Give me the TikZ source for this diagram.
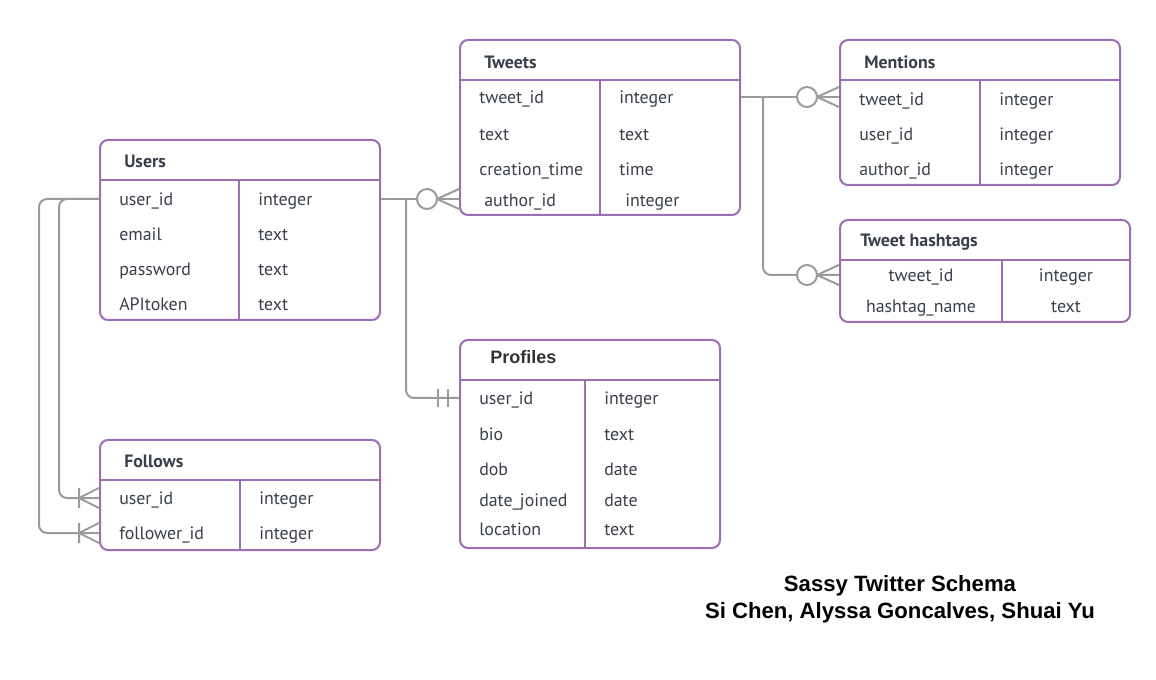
\documentclass[tikz,border=0pt]{standalone}
\usepackage{fontspec}
\setmainfont{PT Sans}
\newfontfamily\arialfont{Liberation Sans}
\usepackage{xcolor}
\usepackage{tikz}
\usetikzlibrary{calc,fit}
\definecolor{tabpurple}{RGB}{155,110,180}
\definecolor{relgray}{RGB}{155,155,155}
\definecolor{fieldtext}{RGB}{58,64,74}

\begin{document}
\begin{tikzpicture}
                            [x=0.75pt,y=-0.75pt,
                            table/.style = {draw=tabpurple, line width=1.5pt,
                                        rounded corners=6pt, inner sep=0pt},
                            tabline/.style = {draw=tabpurple, line width=1.5pt},
                            field/.style = {anchor=west, inner sep=0pt, text=fieldtext,
                                        font=\fontsize{13.4}{16}\selectfont,
                                        text height=12pt, text depth=2pt},
                            head/.style = {field, font=\fontsize{13.4}{16}\selectfont\bfseries},
                            rel/.style = {draw=relgray, line width=1.5pt}]
                            \useasboundingbox (0,0) rectangle (1156,680);
                            % Tabla Users
                            \node[table, fit={(100,140) (380,320)}] (users) {};
                            \draw[tabline] (100,180) -- (380,180) (239,180) -- (239,320);
                            \node[head] (usersh) at (124,161) {Users};
                            \node[field] (u1) at (119,199) {user\_id};
                            \node[field] (u1t) at (258,199) {integer};
                            \node[field] (u2) at (119,234) {email};
                            \node[field] (u2t) at (258,234) {text};
                            \node[field] (u3) at (119,269) {password};
                            \node[field] (u3t) at (258,269) {text};
                            \node[field] (u4) at (119,304) {APItoken};
                            \node[field] (u4t) at (258,304) {text};
                            % Tabla Tweets
                            \node[table, fit={(460,40) (740,215)}] (tweets) {};
                            \draw[tabline] (460,80) -- (740,80) (600,80) -- (600,215);
                            \node[head] (tweetsh) at (484,62) {Tweets};
                            \node[field] (t1) at (479,97) {tweet\_id};
                            \node[field] (t1t) at (619,97) {integer};
                            \node[field] (t2) at (479,134) {text};
                            \node[field] (t2t) at (619,134) {text};
                            \node[field] (t3) at (479,169) {creation\_time};
                            \node[field] (t3t) at (619,169) {time};
                            \node[field] (t4) at (484,200) {author\_id};
                            \node[field] (t4t) at (625,200) {integer};
                            % Tabla Mentions
                            \node[table, fit={(840,40) (1120,185)}] (mentions) {};
                            \draw[tabline] (840,80) -- (1120,80) (980,80) -- (980,185);
                            \node[head] (mentionsh) at (864,62) {Mentions};
                            \node[field] (m1) at (859,99) {tweet\_id};
                            \node[field] (m1t) at (999,99) {integer};
                            \node[field] (m2) at (859,134) {user\_id};
                            \node[field] (m2t) at (999,134) {integer};
                            \node[field] (m3) at (859,169) {author\_id};
                            \node[field] (m3t) at (999,169) {integer};
                            % Tabla Tweet hashtags
                            \node[table, fit={(840,220) (1130,322)}] (hashtags) {};
                            \draw[tabline] (840,260) -- (1130,260) (1002,260) -- (1002,322);
                            \node[head] (hashtagsh) at (860,240) {Tweet hashtags};
                            \node[field, anchor=center] (h1) at (921,275) {tweet\_id};
                            \node[field, anchor=center] (h1t) at (1066,275) {integer};
                            \node[field, anchor=center] (h2) at (921,306) {hashtag\_name};
                            \node[field, anchor=center] (h2t) at (1066,306) {text};
                            % Tabla Profiles
                            \node[table, fit={(460,340) (720,548)}] (profiles) {};
                            \draw[tabline] (460,380) -- (720,380) (585,380) -- (585,548);
                            \node[head, text=black!80, font=\arialfont\bfseries\fontsize{13.5}{16}\selectfont]
                                (profilesh) at (490,357) {Profiles};
                            \node[field] (p1) at (479,398) {user\_id};
                            \node[field] (p1t) at (604,398) {integer};
                            \node[field] (p2) at (479,434) {bio};
                            \node[field] (p2t) at (604,434) {text};
                            \node[field] (p3) at (479,469) {dob};
                            \node[field] (p3t) at (604,469) {date};
                            \node[field] (p4) at (479,500) {date\_joined};
                            \node[field] (p4t) at (604,500) {date};
                            \node[field] (p5) at (479,529) {location};
                            \node[field] (p5t) at (604,529) {text};
                            % Tabla Follows
                            \node[table, fit={(100,440) (380,550)}] (follows) {};
                            \draw[tabline] (100,480) -- (380,480) (240,480) -- (240,550);
                            \node[head] (followsh) at (124,461) {Follows};
                            \node[field] (f1) at (119,498) {user\_id};
                            \node[field] (f1t) at (259,498) {integer};
                            \node[field] (f2) at (119,533) {follower\_id};
                            \node[field] (f2t) at (259,533) {integer};
                            % Users - Tweets
                            \draw[rel] (users.east |- u1) -- (tweets.west |- u1);
                            \draw[rel] (tweets.west |- u1) ++(0,-10) -- ++(-22,10) -- ++(22,10);
                            \draw[rel,fill=white] (tweets.west |- u1) ++(-32,0) circle (7.5pt);
                            % Users - Profiles
                            \draw[rel, rounded corners=6pt] ($(users.east |- u1)+(25,0)$) |- (profiles.west |- p1);
                            \draw[rel] (profiles.west |- p1) ++(-11,-9) -- ++(0,18) ++(-10,-18) -- ++(0,18);
                            % Tweets - Mentions
                            \draw[rel] (tweets.east |- t1) -- (mentions.west |- t1);
                            \draw[rel] (mentions.west |- t1) ++(0,-10) -- ++(-22,10) -- ++(22,10);
                            \draw[rel,fill=white] (mentions.west |- t1) ++(-32,0) circle (7.5pt);
                            % Tweets - Tweet hashtags
                            \draw[rel, rounded corners=6pt] ($(tweets.east |- t1)+(22,0)$) |- (hashtags.west |- h1);
                            \draw[rel] (hashtags.west |- h1) ++(0,-10) -- ++(-22,10) -- ++(22,10);
                            \draw[rel,fill=white] (hashtags.west |- h1) ++(-32,0) circle (7.5pt);
                            % Users - Follows
                            \draw[rel, rounded corners=6pt] (users.west |- u1) -- ++(-40,0) |- (follows.west |- f1);
                            \draw[rel, rounded corners=6pt] (users.west |- u1) -- ++(-60,0) |- (follows.west |- f2);
                            \draw[rel] (follows.west |- f1) ++(0,-10) -- ++(-20,10) -- ++(20,10) ++(-20,-20) -- ++(0,20);
                            \draw[rel] (follows.west |- f2) ++(0,-10) -- ++(-20,10) -- ++(20,10) ++(-20,-20) -- ++(0,20);
                            % Titulo
                            \node[font=\arialfont\bfseries\fontsize{16.6}{20.3}\selectfont, align=center]
                                (title) at (900,599) {Sassy Twitter Schema\\Si Chen, Alyssa Goncalves, Shuai Yu};
                        \end{tikzpicture}
\end{document}
